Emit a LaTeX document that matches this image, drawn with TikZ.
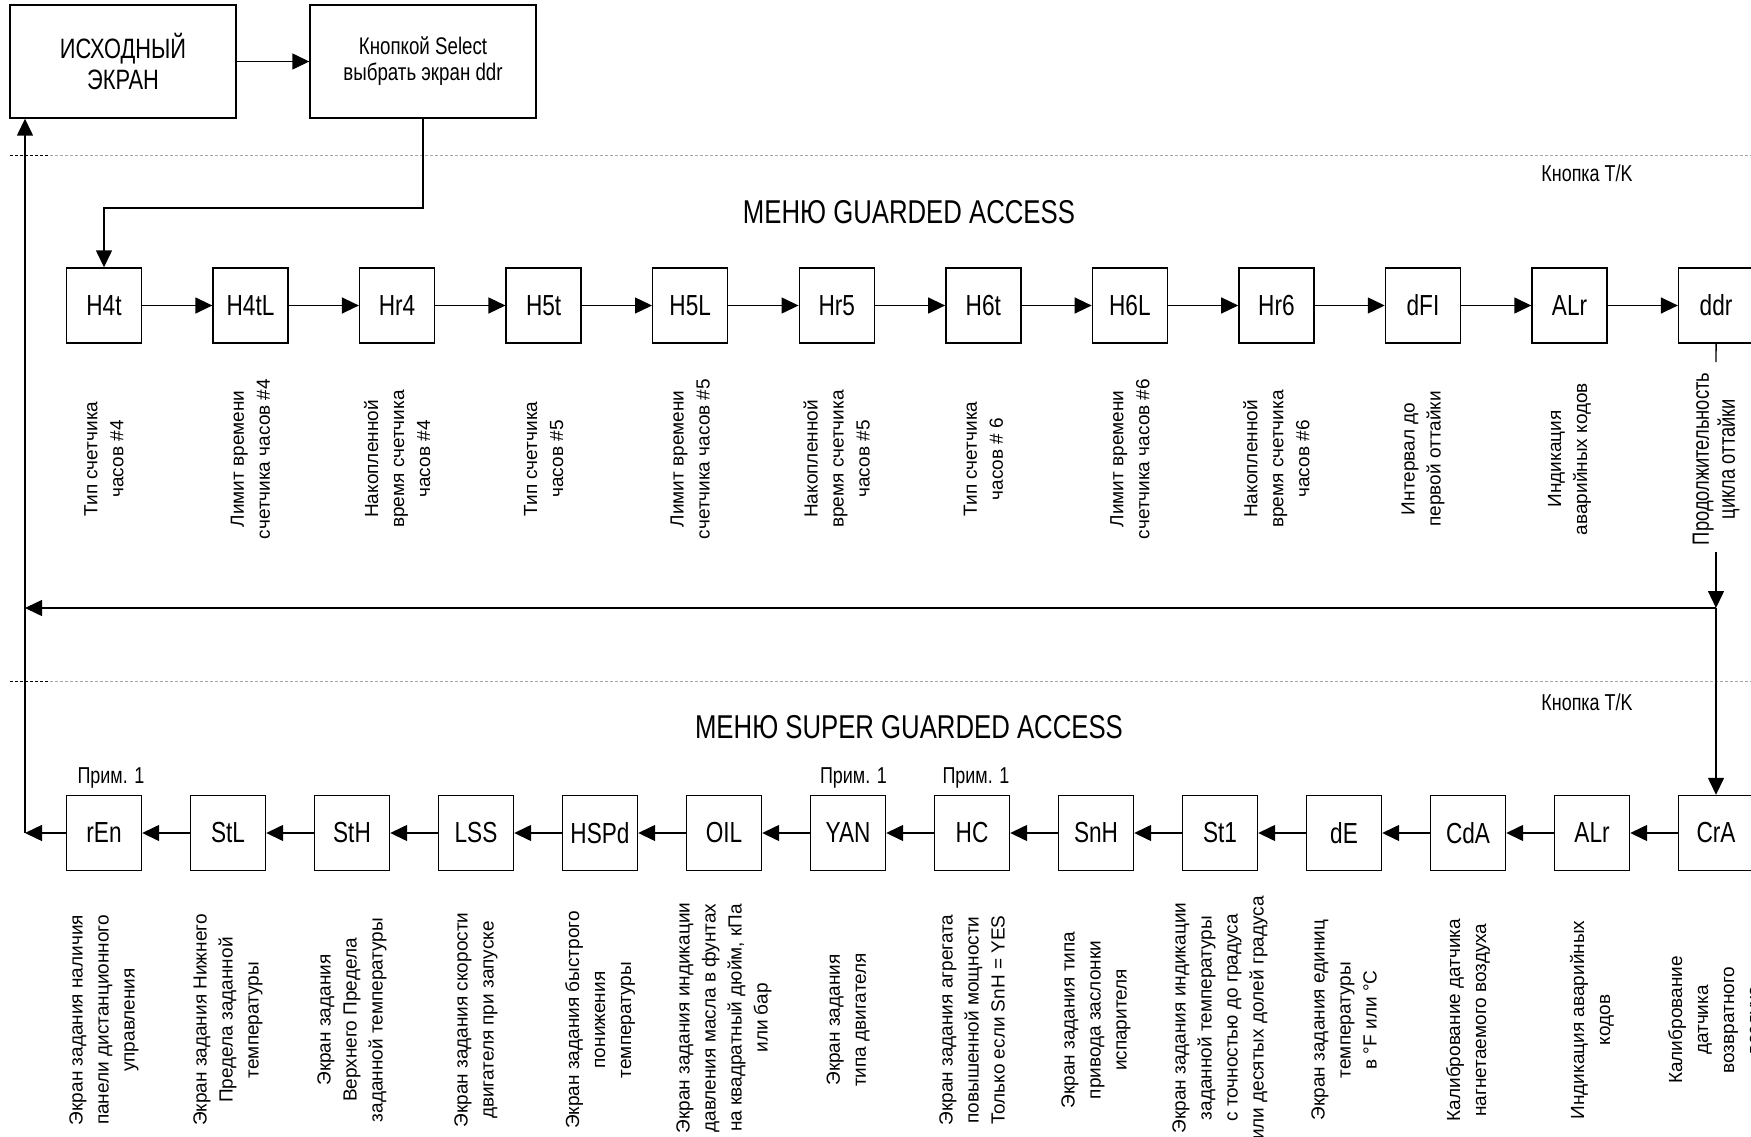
\documentclass[tikz,border=0pt]{standalone}
\usepackage{fontspec}
\setmainfont{Liberation Sans}
\newfontfamily\condf[FakeStretch=0.78]{Liberation Sans}
\usetikzlibrary{arrows.meta,calc}
\begin{document}
\begin{tikzpicture}[x=1pt,y=-1pt,
  box/.style={draw,line width=1.4pt,minimum width=75pt,minimum height=75pt,inner sep=0pt,font=\condf\fontsize{29}{30}\selectfont},
  bigbox/.style={draw,line width=1.4pt,minimum width=226pt,minimum height=113pt,inner sep=0pt,align=center},
  arr/.style={line width=1.4pt,-{Triangle[length=17pt,width=16pt]}},
  ln/.style={line width=1.4pt},
  lbl/.style={rotate=90,align=center,font=\fontsize{19}{26}\selectfont,inner sep=0pt},
  clbl/.style={rotate=90,align=center,font=\condf\fontsize{23.5}{26}\selectfont,inner sep=0pt},
  note/.style={font=\condf\fontsize{23}{26}\selectfont,inner sep=0pt},
  title/.style={font=\condf\fontsize{33}{36}\selectfont,inner sep=0pt},
  sep/.style={gray!70,line width=1pt,dash pattern=on 3pt off 2pt}]
\useasboundingbox (0,0) rectangle (1751,1137);
\fill[white] (0,0) rectangle (1751,1137);

% top boxes
\node[bigbox,font=\condf\fontsize{28}{31}\selectfont] (init) at (123,61.5) {ИСХОДНЫЙ\\ЭКРАН};
\node[bigbox,font=\condf\fontsize{24}{26}\selectfont] (sel) at (423,61.5) {Кнопкой Select\\выбрать экран ddr};
\draw[arr] (init) -- (sel);

% separators
\draw[sep] (10,156) -- (1751,156);
\draw[black,line width=1pt,dash pattern=on 3pt off 2pt] (10,156) -- (48,156);
\draw[sep] (10,681) -- (1751,681);
\draw[black,line width=1pt,dash pattern=on 3pt off 2pt] (10,681) -- (48,681);

\node[note] (tk1) at (1587,173) {Кнопка T/K};
\node[note] (tk2) at (1587,702) {Кнопка T/K};
\node[title] (ttl1) at (909,212) {МЕНЮ GUARDED ACCESS};
\node[title] (ttl2) at (909,727) {МЕНЮ SUPER GUARDED ACCESS};

% guarded access row
\foreach \n [count=\i from 0] in {H4t,H4tL,Hr4,H5t,H5L,Hr5,H6t,H6L,Hr6,dFI,ALr,ddr}
  \node[box] (t\i) at ({104+\i*146.55},305.5) {\n};
\foreach \i [evaluate=\i as \j using int(\i+1)] in {0,...,10}
  \draw[arr] (t\i) -- (t\j);

% super guarded access row
\foreach \n [count=\i from 0] in {rEn,StL,StH,LSS,HSPd,OIL,YAN,HC,SnH,St1,dE,CdA,ALr,CrA}
  \node[box] (b\i) at ({104+\i*124},833) {\n};
\foreach \i [evaluate=\i as \j using int(\i+1)] in {0,...,12}
  \draw[arr] (b\j) -- (b\i);

\node[note] (n1) at (111,778) {Прим. 1};
\node[note] (n2) at (853.5,778) {Прим. 1};
\node[note] (n3) at (976,778) {Прим. 1};

% top labels
\node[lbl] (lt0) at (104,459) {Тип счетчика\\часов \#4};
\node[lbl] (lt1) at (250.55,459) {Лимит времени\\счетчика часов \#4};
\node[lbl] (lt2) at (397.1,459) {Накопленной\\время счетчика\\часов \#4};
\node[lbl] (lt3) at (543.65,459) {Тип счетчика\\часов \#5};
\node[lbl] (lt4) at (690.2,459) {Лимит времени\\счетчика часов \#5};
\node[lbl] (lt5) at (836.75,459) {Накопленной\\время счетчика\\часов \#5};
\node[lbl] (lt6) at (983.3,459) {Тип счетчика\\часов \# 6};
\node[lbl] (lt7) at (1129.85,459) {Лимит времени\\счетчика часов \#6};
\node[lbl] (lt8) at (1276.4,459) {Накопленной\\время счетчика\\часов \#6};
\node[lbl] (lt9) at (1422.95,459) {Интервал до\\первой оттайки};
\node[lbl] (lt10) at (1569.5,459) {Индикация\\аварийных кодов};
\node[clbl] (lt11) at (1716,459) {Продолжительность\\цикла оттайки};

% bottom labels
\node[lbl] (lb0) at (104,1020) {Экран задания наличия\\панели дистанционного\\управления};
\node[lbl] (lb1) at (228,1020) {Экран задания Нижнего\\Предела заданной\\температуры};
\node[lbl] (lb2) at (352,1020) {Экран задания\\Верхнего Предела\\заданной температуры};
\node[lbl] (lb3) at (476,1020) {Экран задания скорости\\двигателя при запуске};
\node[lbl] (lb4) at (600,1020) {Экран задания быстрого\\понижения\\температуры};
\node[lbl] (lb5) at (724,1018) {Экран задания индикации\\давления масла в фунтах\\на квадратный дюйм, кПа\\или бар};
\node[lbl] (lb6) at (848,1020) {Экран задания\\типа двигателя};
\node[lbl] (lb7) at (972,1020) {Экран задания агрегата\\повышенной мощности\\Только если SnH = YES};
\node[lbl] (lb8) at (1096,1020) {Экран задания типа\\привода заслонки\\испарителя};
\node[lbl] (lb9) at (1220,1018) {Экран задания индикации\\заданной температуры\\с точностью до градуса\\или десятых долей градуса};
\node[lbl] (lb10) at (1344,1020) {Экран задания единиц\\температуры\\в °F или °C};
\node[lbl] (lb11) at (1468,1020) {Калибрование датчика\\нагнетаемого воздуха};
\node[lbl] (lb12) at (1592,1020) {Индикация аварийных\\кодов};
\node[lbl] (lb13) at (1716,1020) {Калибрование\\датчика\\возвратного\\воздуха};

% connectors
\coordinate (c1) at (104,208);
\draw[arr] (sel.south) |- (c1) -- (t0.north);

\coordinate (dA) at (1716,362);
\coordinate (dB) at (1716,552);
\coordinate (j1) at (1716,608);
\coordinate (lret) at (25,833);
\draw[ln] (t11.south) -- (dA);
\draw[arr] (dB) -- (j1);
\draw[arr] (j1) -- (b13.north);
\draw[arr] (j1) -- (j1 -| lret);
\draw[arr] (b0.west) -- (lret);
\draw[arr] (lret) -- (lret |- init.south);
\end{tikzpicture}
\end{document}
